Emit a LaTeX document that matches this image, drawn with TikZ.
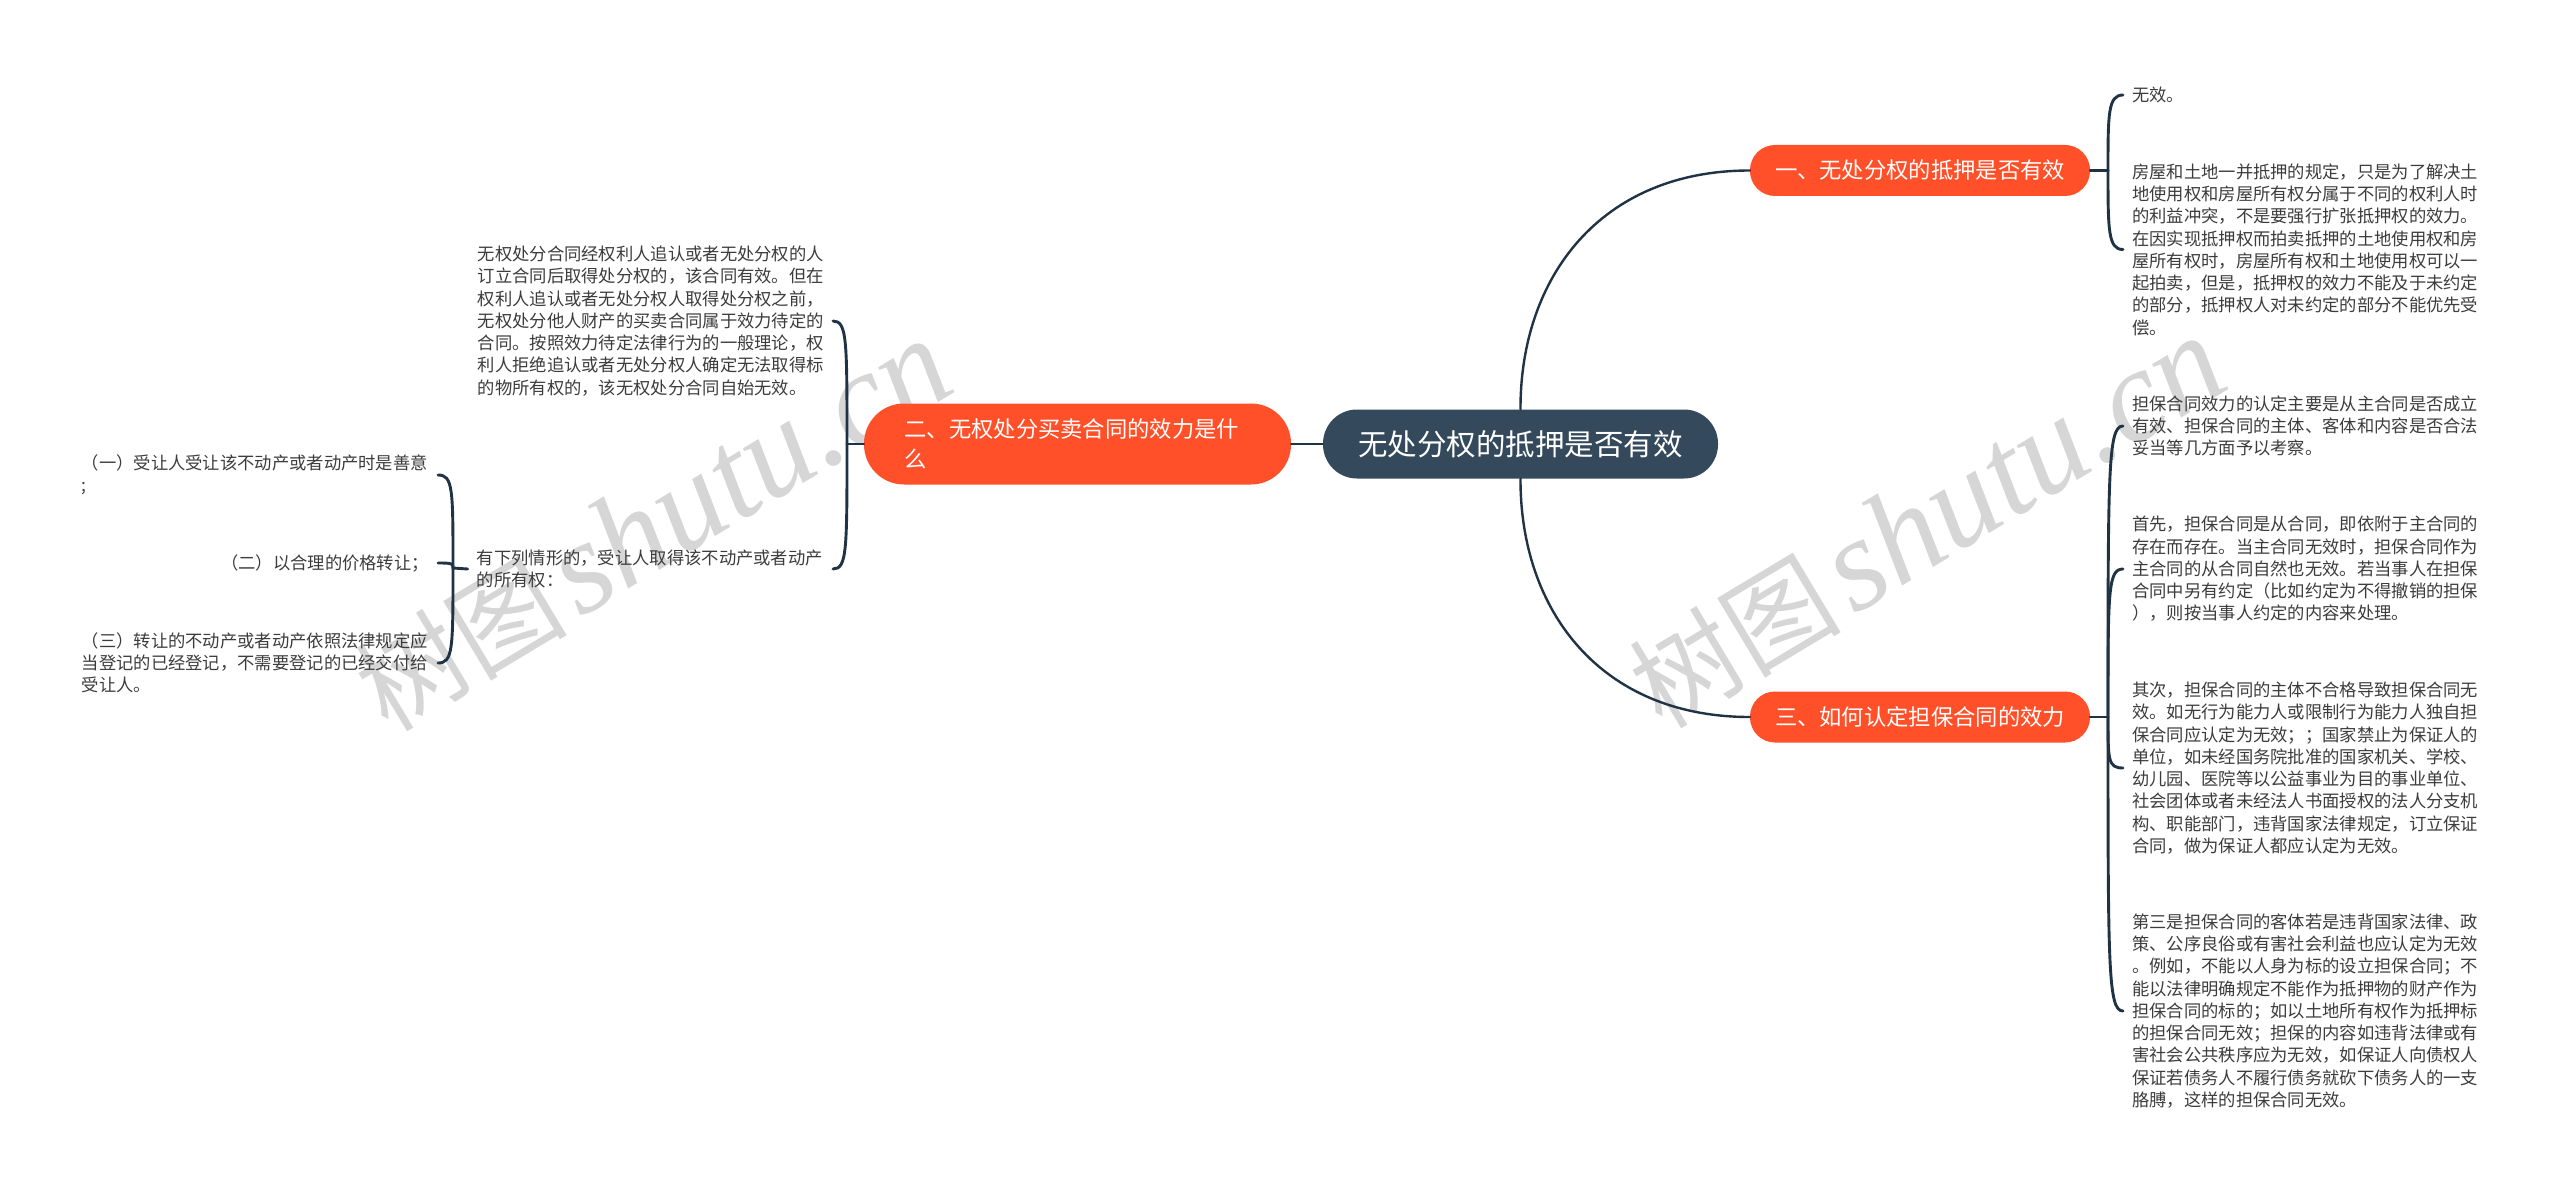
\documentclass[tikz,border=0pt]{standalone}
\usepackage{fontspec}
\setmainfont{Noto Sans CJK SC}
\newfontfamily\wmlatin{Liberation Serif}
\usetikzlibrary{calc}
\definecolor{rootc}{HTML}{34495B}
\definecolor{orangec}{HTML}{FF5029}
\definecolor{linec}{HTML}{1F3345}
\definecolor{textc}{HTML}{3C3C3C}
\definecolor{wmc}{HTML}{D6D6D6}
\newcommand{\wmtext}{{\fontsize{106}{117}\selectfont 树图}\hspace{12pt}{\wmlatin\itshape\fontsize{132}{132}\selectfont shutu.cn}}
\tikzset{
 x=1pt,y=-1pt,
 pill/.style={minimum height=#1,inner sep=0pt,text=white},
 rootbox/.style={pill=69pt,rounded corners=34pt,fill=rootc,minimum width=395pt,font=\fontsize{29.5}{34}\selectfont},
 subbox/.style={pill=51pt,rounded corners=25pt,fill=orangec,minimum width=340pt,font=\fontsize{22.3}{30}\selectfont},
 leaf/.style={inner xsep=9pt,inner ysep=0pt,text=textc,font=\fontsize{17.3}{22.25}\selectfont,align=left},
 leafr/.style={leaf,align=right},
 conn/.style={draw=linec,line width=2.9pt,line cap=round},
 mainconn/.style={draw=linec,line width=2.4pt,line cap=round},
 wm/.style={text=wmc,rotate=31},
}
\begin{document}
\begin{tikzpicture}
\useasboundingbox (0,0) rectangle (2560,1193);
\fill[white] (0,0) rectangle (2560,1193);
% watermarks
\node[wm] (wma) at (653,526) {\wmtext};
\node[wm] (wmb) at (1927,523) {\wmtext};
% main nodes
\node[rootbox] (root) at (1520.5,444) {无处分权的抵押是否有效};
\node[subbox] (n1) at (1920,170.5) {一、无处分权的抵押是否有效};
\node[subbox] (n3) at (1920,717) {三、如何认定担保合同的效力};
\node[pill=81pt,rounded corners=40pt,fill=orangec,minimum width=427pt,font=\fontsize{22.3}{30}\selectfont,text width=346pt,align=left,inner xsep=40.5pt] (n2) at (1077.5,444) {二、无权处分买卖合同的效力是什\\么};
% right leaves
\node[leaf,anchor=west] (a1) at (2123,95) {无效。};
\node[leaf,anchor=west] (a2) at (2123,249.5) {房屋和土地一并抵押的规定，只是为了解决土\\地使用权和房屋所有权分属于不同的权利人时\\的利益冲突，不是要强行扩张抵押权的效力。\\在因实现抵押权而拍卖抵押的土地使用权和房\\屋所有权时，房屋所有权和土地使用权可以一\\起拍卖，但是，抵押权的效力不能及于未约定\\的部分，抵押权人对未约定的部分不能优先受\\偿。};
\node[leaf,anchor=west] (c1) at (2123,426) {担保合同效力的认定主要是从主合同是否成立\\有效、担保合同的主体、客体和内容是否合法\\妥当等几方面予以考察。};
\node[leaf,anchor=west] (c2) at (2123,569) {首先，担保合同是从合同，即依附于主合同的\\存在而存在。当主合同无效时，担保合同作为\\主合同的从合同自然也无效。若当事人在担保\\合同中另有约定（比如约定为不得撤销的担保\\），则按当事人约定的内容来处理。};
\node[leaf,anchor=west] (c3) at (2123,768) {其次，担保合同的主体不合格导致担保合同无\\效。如无行为能力人或限制行为能力人独自担\\保合同应认定为无效；；国家禁止为保证人的\\单位，如未经国务院批准的国家机关、学校、\\幼儿园、医院等以公益事业为目的事业单位、\\社会团体或者未经法人书面授权的法人分支机\\构、职能部门，违背国家法律规定，订立保证\\合同，做为保证人都应认定为无效。};
\node[leaf,anchor=west] (c4) at (2123,1011) {第三是担保合同的客体若是违背国家法律、政\\策、公序良俗或有害社会利益也应认定为无效\\。例如，不能以人身为标的设立担保合同；不\\能以法律明确规定不能作为抵押物的财产作为\\担保合同的标的；如以土地所有权作为抵押标\\的担保合同无效；担保的内容如违背法律或有\\害社会公共秩序应为无效，如保证人向债权人\\保证若债务人不履行债务就砍下债务人的一支\\胳膊，这样的担保合同无效。};
% left leaves
\node[leaf,anchor=east] (b1) at (833,321) {无权处分合同经权利人追认或者无处分权的人\\订立合同后取得处分权的，该合同有效。但在\\权利人追认或者无处分权人取得处分权之前，\\无权处分他人财产的买卖合同属于效力待定的\\合同。按照效力待定法律行为的一般理论，权\\利人拒绝追认或者无处分权人确定无法取得标\\的物所有权的，该无权处分合同自始无效。};
\node[leaf,anchor=east,text width=347pt] (b2) at (833,569) {有下列情形的，受让人取得该不动产或者动产\\的所有权：};
\node[leaf,anchor=east,text width=347pt] (d1) at (438,475) {（一）受让人受让该不动产或者动产时是善意\\;};
\node[leafr,anchor=east] (d2) at (438,563) {（二）以合理的价格转让；};
\node[leaf,anchor=east,text width=347pt] (d3) at (438,663) {（三）转让的不动产或者动产依照法律规定应\\当登记的已经登记，不需要登记的已经交付给\\受让人。};
% connectors
\draw[mainconn] (root.north) .. controls (1520,278) and (1600,170.5) .. (n1.west);
\draw[mainconn] (root.south) .. controls (1520,610) and (1600,717) .. (n3.west);
\draw[mainconn] (root.west) -- (n2.east);
\coordinate (ja) at (2108,170.5);
\coordinate (jc) at (2108,717);
\coordinate (jb) at (847,444);
\coordinate (jd) at (453,568);
\draw[conn] (n1.east) -- (ja);
\draw[conn] (n3.east) -- (jc);
\draw[conn] (n2.west) -- (jb);
\draw[conn] (b2.west) -- (jd);
\foreach \t in {a1,a2}{\draw[conn] (ja) .. controls ($(ja)!.75!(ja|-\t.west)$) and (2108,0|-\t.west) .. (\t.west);}
\foreach \t in {c1,c2,c3,c4}{\draw[conn] (jc) .. controls ($(jc)!.85!(jc|-\t.west)$) and (2108,0|-\t.west) .. (\t.west);}
\foreach \t in {b1,b2}{\draw[conn] (jb) .. controls ($(jb)!.85!(jb|-\t.east)$) and (847,0|-\t.east) .. (\t.east);}
\foreach \t in {d1,d2,d3}{\draw[conn] (jd) .. controls ($(jd)!.85!(jd|-\t.east)$) and (453,0|-\t.east) .. (\t.east);}
\end{tikzpicture}
\end{document}
